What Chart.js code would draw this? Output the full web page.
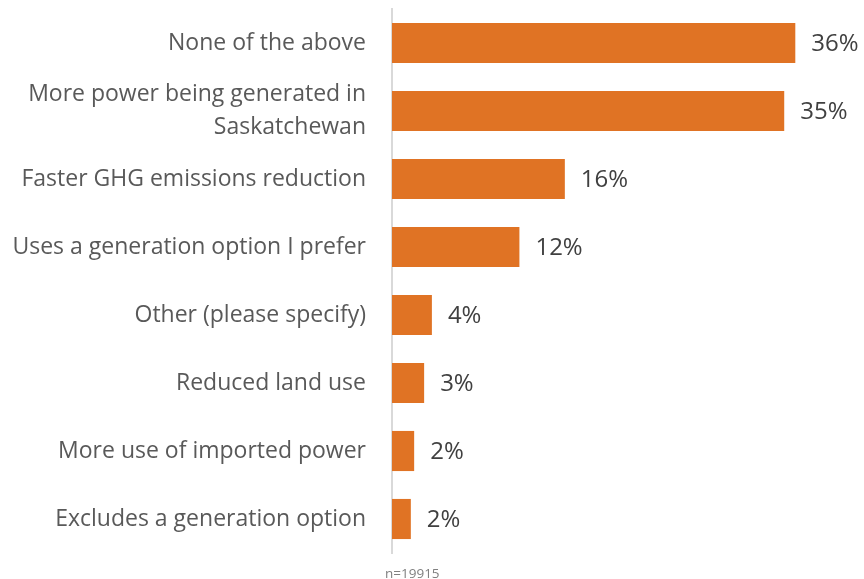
<!DOCTYPE html>
<html>
<head>
<meta charset="utf-8">
<script src="https://cdn.jsdelivr.net/npm/chart.js@4.4.1/dist/chart.umd.min.js"></script>
<style>
  html, body { margin: 0; padding: 0; background: #fff; }
  #wrap { width: 864px; height: 579px; }
</style>
</head>
<body>
<div id="wrap"><canvas id="chart" width="864" height="579"></canvas></div>
<script>
  // Survey answers, top to bottom as drawn
  const categories = [
    'None of the above',
    ['More power being generated in', 'Saskatchewan'],
    'Faster GHG emissions reduction',
    'Uses a generation option I prefer',
    'Other (please specify)',
    'Reduced land use',
    'More use of imported power',
    'Excludes a generation option'
  ];
  const shares = [36.4, 35.4, 15.6, 11.5, 3.6, 2.9, 2.0, 1.7];
  const sampleNote = 'n=19915';

  const FONT = '"Open Sans", Lato, sans-serif';
  const BAR_COLOR = '#E07324';

  // Draw the % value to the right of each bar, plus the n= note.
  const valueLabels = {
    id: 'valueLabels',
    afterDatasetsDraw(chart) {
      const ctx = chart.ctx;
      const meta = chart.getDatasetMeta(0);
      ctx.save();
      ctx.font = '24px ' + FONT;
      ctx.fillStyle = '#404040';
      ctx.textAlign = 'left';
      ctx.textBaseline = 'middle';
      meta.data.forEach((bar, i) => {
        ctx.fillText(Math.round(shares[i]) + '%', bar.x + 16, bar.y + 1);
      });
      ctx.font = '13.5px ' + FONT;
      ctx.fillStyle = '#808080';
      ctx.fillText(sampleNote, chart.chartArea.left - 7, 574);
      ctx.restore();
    }
  };

  new Chart(document.getElementById('chart'), {
    type: 'bar',
    data: {
      labels: categories,
      datasets: [{
        data: shares,
        backgroundColor: BAR_COLOR,
        borderWidth: 0,
        categoryPercentage: 1,
        barPercentage: 0.59
      }]
    },
    options: {
      indexAxis: 'y',
      responsive: false,
      animation: false,
      layout: { padding: { top: 9, bottom: 26, left: 0, right: 0 } },
      plugins: { legend: { display: false }, tooltip: { enabled: false } },
      scales: {
        x: {
          display: false,
          min: 0,
          max: 42.6
        },
        y: {
          afterFit(scale) {
            scale.width = 392;
            scale.paddingTop = 0;
            scale.paddingBottom = 0;
          },
          grid: { display: false, drawTicks: false },
          border: { display: true, color: '#d9d9d9', width: 2 },
          ticks: {
            padding: 26,
            color: '#595959',
            font: { family: FONT, size: 23, lineHeight: 1.4 }
          }
        }
      }
    },
    plugins: [valueLabels]
  });
</script>
</body>
</html>
